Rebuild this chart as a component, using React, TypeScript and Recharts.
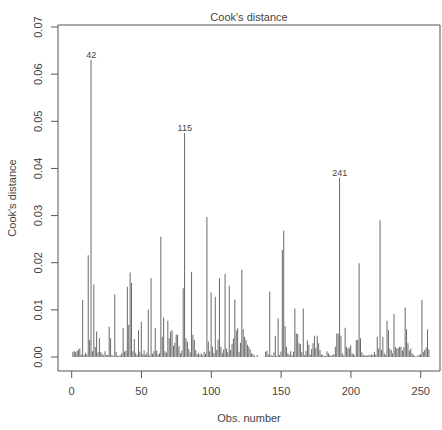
import { ComposedChart, Bar, XAxis, YAxis, ReferenceArea, ReferenceDot } from "recharts";

// Cook's distance per observation (obs 1..256)
const cooksDistance = [
  0.0011, 0.0012, 0.001, 0.0013, 0.0016, 0.0018, 0.0005, 0.0121, 0.0004, 0.0009,
  0.0006, 0.0216, 0.0036, 0.063, 0.0012, 0.0154, 0.0021, 0.0054, 0.001, 0.004,
  0.0011, 0.0007, 0.0003, 0.0012, 0.0004, 0.0004, 0.0064, 0.004, 0.0004, 0.0002,
  0.0133, 0.0011, 0.0002, 0.0003, 0.0003, 0.0008, 0.0061, 0.0011, 0.0013, 0.0149,
  0.0068, 0.0179, 0.0157, 0.0012, 0.0038, 0.0009, 0.0005, 0.0057, 0.0011, 0.0075,
  0.0006, 0.0014, 0.0004, 0.0009, 0.0101, 0.0003, 0.0167, 0.0007, 0.0012, 0.0061,
  0.0013, 0.0006, 0.0008, 0.0255, 0.0043, 0.0084, 0.0012, 0.0009, 0.0077, 0.004,
  0.0054, 0.0057, 0.0024, 0.003, 0.0047, 0.0047, 0.0023, 0.0008, 0.0013, 0.0146,
  0.0475, 0.004, 0.0033, 0.0017, 0.001, 0.0181, 0.0047, 0.0036, 0.0015, 0.0006,
  0.0009, 0.0005, 0.0008, 0.0003, 0.0011, 0.0007, 0.0297, 0.0033, 0.0012, 0.0137,
  0.0022, 0.0008, 0.0128, 0.0015, 0.0037, 0.0167, 0.0022, 0.0009, 0.0016, 0.0176,
  0.0018, 0.001, 0.0151, 0.0015, 0.0028, 0.0039, 0.0122, 0.0056, 0.0061, 0.0011,
  0.003, 0.0185, 0.0059, 0.0043, 0.0036, 0.0026, 0.0022, 0.0016, 0.0008, 0.0006,
  0.0003, 0, 0.0004, 0, 0, 0, 0, 0, 0.0011, 0.0013,
  0.0005, 0.0139, 0.0004, 0.0002, 0.001, 0.0045, 0.0002, 0.0082, 0.0004, 0.0011,
  0.0227, 0.0268, 0.0066, 0.0022, 0.0008, 0.0005, 0.0012, 0.0003, 0.0011, 0.0103,
  0.005, 0.0049, 0.0029, 0.0027, 0.001, 0.0103, 0.0004, 0.0013, 0.0035, 0.0026,
  0.0005, 0.0017, 0.0029, 0.0045, 0.0019, 0.0045, 0.0029, 0.0015, 0.0006, 0.0004,
  0.0002, 0.0002, 0.0012, 0.0008, 0.0004, 0.0002, 0.0004, 0.0006, 0.0022, 0.005,
  0.005, 0.038, 0.0045, 0.0008, 0.0003, 0.0062, 0.0022, 0.0018, 0.002, 0.0025,
  0.0008, 0.0006, 0.0003, 0.0036, 0.0036, 0.0199, 0.004, 0.001, 0.0004, 0.0003,
  0.0004, 0.0002, 0.0005, 0.0003, 0.0006, 0.0004, 0.0011, 0.0005, 0.0043, 0.0018,
  0.029, 0.0015, 0.0043, 0.0008, 0.0004, 0.0077, 0.0057, 0.0018, 0.0015, 0.0008,
  0.0091, 0.0021, 0.0018, 0.0019, 0.0022, 0.0022, 0.0013, 0.002, 0.0105, 0.0059,
  0.0029, 0.0013, 0.0018, 0.0008, 0.0004, 0.0002, 0.0001, 0.0003, 0.0005, 0.0006,
  0.0121, 0.0011, 0.0015, 0.002, 0.0059, 0.0016,
];

// the three flagged points (position, value, row name)
const flaggedObs = [14, 81, 192];
const flaggedNames = ["42", "115", "241"];

const xTicks = [0, 50, 100, 150, 200, 250];
const yTicks = [0, 0.01, 0.02, 0.03, 0.04, 0.05, 0.06, 0.07];

const data = cooksDistance.map((v, i) => ({ obs: i + 1, cook: v }));

const X_DOMAIN: [number, number] = [-9.8, 263.8];
const Y_DOMAIN: [number, number] = [-0.00297, 0.07043];

const FONT = "'Liberation Sans', Arial, sans-serif";
const INK = "#444";

function YTick(props: any) {
  const { x, y, payload } = props;
  return (
    <text
      x={x}
      y={y}
      dy="0.35em"
      textAnchor="middle"
      transform={`rotate(-90 ${x} ${y})`}
      fontSize={11}
      fontFamily={FONT}
      fill={INK}
    >
      {Number(payload.value).toFixed(2)}
    </text>
  );
}

function YTitle(props: any) {
  const vb = props.viewBox || {};
  const cx = 12;
  const cy = (vb.y ?? 25) + (vb.height ?? 346) / 2;
  return (
    <text
      x={cx}
      y={cy}
      dy="0.35em"
      textAnchor="middle"
      transform={`rotate(-90 ${cx} ${cy})`}
      fontSize={11}
      fontFamily={FONT}
      fill={INK}
    >
      Cook's distance
    </text>
  );
}

export default function App() {
  return (
    <div style={{ position: "absolute", left: 0, top: 0, background: "#fff" }}>
      <ComposedChart
        width={442}
        height={430}
        data={data}
        margin={{ top: 25, right: 2, bottom: 0, left: 0 }}
        barCategoryGap={0}
      >
        <XAxis
          dataKey="obs"
          type="number"
          domain={X_DOMAIN}
          ticks={xTicks}
          allowDataOverflow
          height={59}
          axisLine={false}
          tickSize={7}
          tickMargin={9}
          tickLine={{ stroke: "#555" }}
          tick={{ fontSize: 11, fontFamily: FONT, fill: INK }}
          label={{
            value: "Obs. number",
            position: "insideBottom",
            offset: 8,
            fontSize: 11,
            fontFamily: FONT,
            fill: INK,
          }}
        />
        <YAxis
          type="number"
          domain={Y_DOMAIN}
          ticks={yTicks}
          allowDataOverflow
          width={58}
          axisLine={false}
          tickSize={7}
          tickMargin={13}
          tickLine={{ stroke: "#555" }}
          tick={<YTick />}
          label={<YTitle />}
        />
        <Bar dataKey="cook" fill="#6a6a6a" barSize={1} isAnimationActive={false} />
        <ReferenceArea
          x1={X_DOMAIN[0]}
          x2={X_DOMAIN[1]}
          y1={Y_DOMAIN[0]}
          y2={Y_DOMAIN[1]}
          fill="none"
          fillOpacity={0}
          stroke="#555"
          strokeWidth={1}
          label={{
            value: "Cook's distance",
            position: "top",
            offset: 4,
            fontSize: 11,
            fontFamily: FONT,
            fill: INK,
          }}
        />
        {flaggedObs.map((o, i) => (
          <ReferenceDot
            key={o}
            x={o}
            y={cooksDistance[o - 1]}
            r={0}
            stroke="none"
            fill="none"
            label={{
              value: flaggedNames[i],
              position: "top",
              offset: 2,
              fontSize: 9,
              fontFamily: FONT,
              fill: INK,
            }}
          />
        ))}
      </ComposedChart>
    </div>
  );
}
